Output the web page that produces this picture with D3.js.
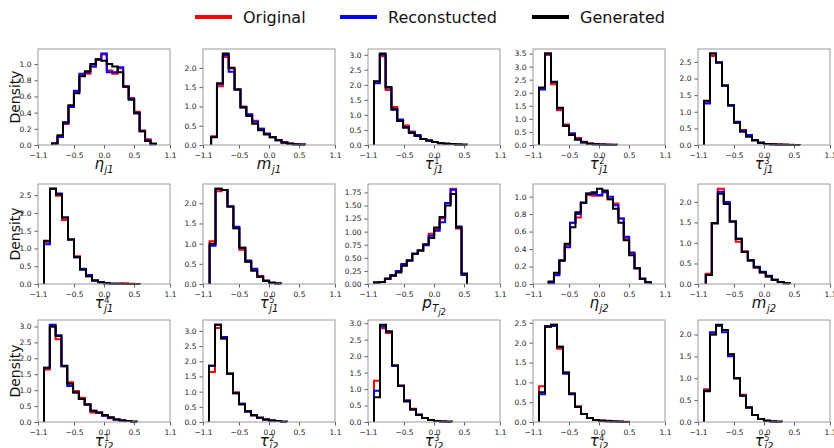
<!DOCTYPE html>
<html><head><meta charset="utf-8">
<script src="https://cdn.jsdelivr.net/npm/d3@7"></script>
<style>body{margin:0;background:#fff} text{font-family:"DejaVu Sans",sans-serif}</style>
</head><body><svg id="c" width="834" height="448"></svg>
<script>
// ---------- data ----------
const seriesNames = ["Original", "Reconstucted", "Generated"];
const seriesColors = ["#ff0000", "#0000ff", "#000000"];
const xTicks = [-1.1, -0.5, 0.0, 0.5, 1.1];

const etaJ1_range = [-0.866, 0.867];
const etaJ1_orig = [0.02,0.11,0.26,0.48,0.66,0.86,0.88,0.97,1.05,1.12,0.92,0.88,0.95,0.73,0.58,0.41,0.18,0.07,0.01];
const etaJ1_reco = [0.02,0.10,0.27,0.47,0.67,0.88,0.90,0.97,1.06,1.13,0.90,0.90,0.96,0.72,0.57,0.39,0.17,0.06,0.01];
const etaJ1_gen  = [0.02,0.12,0.28,0.49,0.64,0.85,0.91,1.00,1.06,1.04,1.00,0.97,0.90,0.72,0.56,0.40,0.17,0.05,0.02];

const mJ1_range = [-0.965, 0.6];
const mJ1_orig = [0.23,1.52,2.28,1.98,1.44,1.0,0.78,0.63,0.42,0.3,0.21,0.13,0.07,0.04,0.02,0.01];
const mJ1_reco = [0.21,1.58,2.33,1.9,1.44,0.98,0.8,0.6,0.42,0.29,0.2,0.12,0.07,0.03,0.02,0.01];
const mJ1_gen  = [0.2,1.6,2.37,2.0,1.44,0.97,0.75,0.55,0.38,0.27,0.2,0.12,0.06,0.03,0.015,0.005];

const tau1J1_range = [-1.0, 0.55];
const tau1J1_orig = [2.1,2.95,1.83,1.26,0.82,0.65,0.45,0.3,0.2,0.14,0.1,0.07,0.04,0.03,0.02,0.01];
const tau1J1_reco = [2.05,3.0,1.9,1.2,0.85,0.6,0.42,0.33,0.2,0.15,0.1,0.06,0.04,0.03,0.02,0.01];
const tau1J1_gen  = [2.12,3.04,1.93,1.17,0.8,0.57,0.4,0.3,0.2,0.15,0.1,0.06,0.04,0.03,0.02,0.01];

const tau2J1_range = [-1.0, 0.3];
const tau2J1_orig = [2.18,3.45,2.33,1.33,0.78,0.45,0.27,0.12,0.06,0.03,0.015,0.01,0.005];
const tau2J1_reco = [2.12,3.5,2.4,1.4,0.75,0.43,0.22,0.11,0.05,0.03,0.015,0.01,0.005];
const tau2J1_gen  = [2.2,3.5,2.42,1.43,0.73,0.38,0.2,0.1,0.05,0.03,0.015,0.008,0.004];

const tau3J1_range = [-1.0, 0.6];
const tau3J1_orig = [1.3,2.68,2.48,1.78,1.2,0.68,0.45,0.27,0.14,0.07,0.03,0.03,0.02,0.01,0.005,0.003];
const tau3J1_reco = [1.25,2.75,2.48,1.8,1.2,0.7,0.43,0.3,0.14,0.07,0.03,0.015,0.01,0.005,0.003,0.002];
const tau3J1_gen  = [1.33,2.75,2.48,1.78,1.18,0.67,0.4,0.25,0.14,0.07,0.03,0.015,0.01,0.005,0.003,0.002];

const tau4J1_range = [-1.0, 0.6];
const tau4J1_orig = [1.18,2.68,2.48,1.8,1.25,0.78,0.42,0.22,0.1,0.05,0.02,0.01,0.01,0.02,0.005,0.003];
const tau4J1_reco = [1.12,2.68,2.55,1.87,1.25,0.75,0.43,0.25,0.1,0.05,0.02,0.01,0.005,0.003,0.002,0.001];
const tau4J1_gen  = [1.22,2.68,2.52,1.87,1.25,0.75,0.4,0.22,0.1,0.05,0.02,0.01,0.005,0.003,0.002,0.001];

const tau5J1_range = [-0.99, 0.2];
const tau5J1_orig = [1.06,2.3,2.33,1.92,1.38,0.85,0.55,0.36,0.2,0.08,0.03,0.01];
const tau5J1_reco = [0.95,2.36,2.33,1.92,1.42,0.9,0.58,0.38,0.18,0.08,0.03,0.01];
const tau5J1_gen  = [1.0,2.36,2.33,1.92,1.38,0.9,0.55,0.33,0.18,0.08,0.03,0.01];

const pTJ2_range = [-1.0, 0.55];
const pTJ2_orig = [0.03,0.04,0.1,0.16,0.25,0.36,0.45,0.58,0.64,0.75,0.96,1.05,1.25,1.55,1.82,1.06,0.18];
const pTJ2_reco = [0.03,0.04,0.1,0.17,0.25,0.38,0.45,0.58,0.64,0.74,0.92,1.02,1.18,1.55,1.8,1.1,0.17];
const pTJ2_gen  = [0.03,0.04,0.1,0.16,0.22,0.35,0.45,0.58,0.64,0.76,0.88,1.08,1.28,1.5,1.72,1.08,0.2];

const etaJ2_range = [-0.84, 0.86];
const etaJ2_orig = [0.02,0.11,0.27,0.44,0.7,0.76,0.93,1.02,1.01,1.01,1.05,0.97,0.92,0.75,0.52,0.35,0.18,0.06,0.02];
const etaJ2_reco = [0.01,0.1,0.27,0.42,0.7,0.8,0.93,1.04,1.03,1.02,1.05,1.0,0.9,0.75,0.54,0.36,0.18,0.06,0.02];
const etaJ2_gen  = [0.03,0.13,0.27,0.46,0.65,0.82,0.93,1.03,1.05,1.09,1.07,0.97,0.86,0.7,0.5,0.33,0.18,0.06,0.02];

const mJ2_range = [-0.97, 0.43];
const mJ2_orig = [0.25,1.48,2.32,1.95,1.52,1.03,0.8,0.57,0.4,0.28,0.18,0.1,0.05,0.02];
const mJ2_reco = [0.22,1.48,2.25,2.0,1.52,1.1,0.78,0.58,0.42,0.3,0.2,0.11,0.05,0.02];
const mJ2_gen  = [0.22,1.48,2.2,1.95,1.52,1.1,0.78,0.57,0.4,0.28,0.18,0.1,0.05,0.02];

const tau1J2_range = [-1.0, 0.55];
const tau1J2_orig = [1.65,3.0,2.6,1.75,1.25,0.97,0.76,0.55,0.3,0.28,0.2,0.12,0.08,0.05,0.03,0.01];
const tau1J2_reco = [1.7,3.05,2.72,1.75,1.13,0.93,0.72,0.55,0.35,0.3,0.2,0.13,0.08,0.05,0.03,0.01];
const tau1J2_gen  = [1.7,3.0,2.7,1.77,1.2,0.93,0.72,0.55,0.35,0.3,0.22,0.15,0.08,0.05,0.03,0.01];

const tau2J2_range = [-1.0, 0.3];
const tau2J2_orig = [1.65,3.1,2.75,1.6,0.98,0.6,0.36,0.22,0.14,0.08,0.05,0.03,0.01];
const tau2J2_reco = [1.85,3.2,2.8,1.58,0.95,0.6,0.35,0.22,0.14,0.08,0.05,0.03,0.01];
const tau2J2_gen  = [1.85,3.2,2.75,1.6,0.95,0.58,0.35,0.22,0.14,0.08,0.05,0.03,0.01];

const tau3J2_range = [-1.0, 0.3];
const tau3J2_orig = [1.25,2.85,2.7,1.7,1.1,0.65,0.4,0.22,0.12,0.06,0.03,0.015,0.01];
const tau3J2_reco = [0.95,2.9,2.75,1.7,1.1,0.65,0.38,0.22,0.12,0.06,0.03,0.015,0.01];
const tau3J2_gen  = [0.75,2.95,2.75,1.72,1.1,0.62,0.38,0.22,0.12,0.06,0.03,0.015,0.01];

const tau4J2_range = [-1.0, 0.5];
const tau4J2_orig = [0.9,2.4,2.45,1.85,1.25,0.72,0.4,0.2,0.1,0.05,0.04,0.03,0.02,0.01,0.005];
const tau4J2_reco = [0.7,2.42,2.42,1.9,1.22,0.7,0.38,0.2,0.1,0.05,0.03,0.02,0.01,0.005,0.003];
const tau4J2_gen  = [0.75,2.4,2.45,1.9,1.25,0.72,0.38,0.2,0.1,0.05,0.03,0.02,0.01,0.005,0.003];

const tau5J2_range = [-1.0, 0.3];
const tau5J2_orig = [0.75,2.0,2.2,2.1,1.55,1.0,0.62,0.33,0.16,0.07,0.03,0.01,0.005];
const tau5J2_reco = [0.72,2.05,2.2,2.05,1.5,1.0,0.6,0.33,0.16,0.07,0.03,0.01,0.005];
const tau5J2_gen  = [0.7,2.0,2.22,2.1,1.55,1.0,0.6,0.33,0.16,0.07,0.03,0.01,0.005];

const panels = [
  {lab:{b:"η", sub:"j1"}, range:etaJ1_range, data:[etaJ1_orig, etaJ1_reco, etaJ1_gen], yStep:0.2, fmt:".1f"},
  {lab:{b:"m", sub:"j1"}, range:mJ1_range, data:[mJ1_orig, mJ1_reco, mJ1_gen], yStep:0.5, fmt:".1f"},
  {lab:{b:"τ", sup:"1", sub:"j1"}, range:tau1J1_range, data:[tau1J1_orig, tau1J1_reco, tau1J1_gen], yStep:0.5, fmt:".1f"},
  {lab:{b:"τ", sup:"2", sub:"j1"}, range:tau2J1_range, data:[tau2J1_orig, tau2J1_reco, tau2J1_gen], yStep:0.5, fmt:".1f"},
  {lab:{b:"τ", sup:"3", sub:"j1"}, range:tau3J1_range, data:[tau3J1_orig, tau3J1_reco, tau3J1_gen], yStep:0.5, fmt:".1f"},
  {lab:{b:"τ", sup:"4", sub:"j1"}, range:tau4J1_range, data:[tau4J1_orig, tau4J1_reco, tau4J1_gen], yStep:0.5, fmt:".1f"},
  {lab:{b:"τ", sup:"5", sub:"j1"}, range:tau5J1_range, data:[tau5J1_orig, tau5J1_reco, tau5J1_gen], yStep:0.5, fmt:".1f"},
  {lab:{b:"p", sub:"T", subsub:"j2"}, range:pTJ2_range, data:[pTJ2_orig, pTJ2_reco, pTJ2_gen], yStep:0.25, fmt:".2f"},
  {lab:{b:"η", sub:"j2"}, range:etaJ2_range, data:[etaJ2_orig, etaJ2_reco, etaJ2_gen], yStep:0.2, fmt:".1f"},
  {lab:{b:"m", sub:"j2"}, range:mJ2_range, data:[mJ2_orig, mJ2_reco, mJ2_gen], yStep:0.5, fmt:".1f"},
  {lab:{b:"τ", sup:"1", sub:"j2"}, range:tau1J2_range, data:[tau1J2_orig, tau1J2_reco, tau1J2_gen], yStep:0.5, fmt:".1f"},
  {lab:{b:"τ", sup:"2", sub:"j2"}, range:tau2J2_range, data:[tau2J2_orig, tau2J2_reco, tau2J2_gen], yStep:0.5, fmt:".1f"},
  {lab:{b:"τ", sup:"3", sub:"j2"}, range:tau3J2_range, data:[tau3J2_orig, tau3J2_reco, tau3J2_gen], yStep:0.5, fmt:".1f"},
  {lab:{b:"τ", sup:"4", sub:"j2"}, range:tau4J2_range, data:[tau4J2_orig, tau4J2_reco, tau4J2_gen], yStep:0.5, fmt:".1f"},
  {lab:{b:"τ", sup:"5", sub:"j2"}, range:tau5J2_range, data:[tau5J2_orig, tau5J2_reco, tau5J2_gen], yStep:0.5, fmt:".1f"}
];

// ---------- layout ----------
const colLeft = [38, 203, 368, 533, 698];
const plotW = 132;
const rowTop = [49, 184, 320];
const rowBottom = [145, 284, 422];

const svg = d3.select("#c");

// legend
const legX = [195, 340, 532];
seriesNames.forEach((n, k) => {
  svg.append("line").attr("x1", legX[k]).attr("x2", legX[k] + 37).attr("y1", 17).attr("y2", 17)
    .attr("stroke", seriesColors[k]).attr("stroke-width", 4);
  svg.append("text").attr("x", legX[k] + 48).attr("y", 23).attr("font-size", 16).attr("fill", "#111").text(n);
});

panels.forEach((p, i) => {
  const r = Math.floor(i / 5), c = i % 5;
  const h = rowBottom[r] - rowTop[r];
  const g = svg.append("g").attr("transform", `translate(${colLeft[c]},${rowTop[r]})`);
  const x = d3.scaleLinear().domain([-1.1, 1.1]).range([0, plotW]);
  const ymax = 1.05 * d3.max(p.data.flat());
  const y = d3.scaleLinear().domain([0, ymax]).range([h, 0]);

  const yt = d3.range(0, ymax + 1e-9, p.yStep);
  const xa = g.append("g").attr("transform", `translate(0,${h})`)
    .call(d3.axisBottom(x).tickValues(xTicks).tickFormat(d3.format(".1f")).tickSize(3.5).tickSizeOuter(0));
  const ya = g.append("g")
    .call(d3.axisLeft(y).tickValues(yt).tickFormat(d3.format(p.fmt)).tickSize(3.5).tickSizeOuter(0));
  [xa, ya].forEach(a => {
    a.select(".domain").remove();
    a.selectAll("line").attr("stroke", "#333").attr("stroke-width", 0.8);
    a.selectAll("text").attr("font-size", 7.5).attr("fill", "#222").attr("font-family", "DejaVu Sans");
  });
  xa.selectAll("text").attr("dy", "0.8em");

  p.data.forEach((arr, k) => {
    const n = arr.length, bw = (p.range[1] - p.range[0]) / n;
    const pts = [[p.range[0], 0]];
    arr.forEach((v, j) => { pts.push([p.range[0] + j * bw, v]); pts.push([p.range[0] + (j + 1) * bw, v]); });
    pts.push([p.range[1], 0]);
    g.append("path").attr("d", d3.line().x(d => x(d[0])).y(d => y(d[1]))(pts))
      .attr("fill", "none").attr("stroke", seriesColors[k]).attr("stroke-width", 2)
      .attr("stroke-linejoin", "miter");
  });

  g.append("rect").attr("x", 0).attr("y", 0).attr("width", plotW).attr("height", h)
    .attr("fill", "none").attr("stroke", "#999").attr("stroke-width", 1);

  // x label (mathtext-like)
  const lab = p.lab;
  const lg = g.append("g");
  const ly = h + 24;
  const t = lg.append("text").attr("x", 0).attr("y", ly).attr("font-size", 15).attr("fill", "#111")
    .attr("font-style", "italic").text(lab.b);
  const bwid = t.node().getComputedTextLength();
  let wsup = 0;
  if (lab.sup) {
    const su = lg.append("text").attr("x", bwid + 0.5).attr("y", ly - 5.5).attr("font-size", 8).attr("fill", "#111").text(lab.sup);
    wsup = su.node().getComputedTextLength();
  }
  const st = lg.append("text").attr("x", bwid + 0.5).attr("y", ly + 4).attr("font-size", 10).attr("fill", "#111")
    .attr("font-style", "italic").text(lab.sub);
  let wsub = st.node().getComputedTextLength();
  if (lab.subsub) {
    const ss = lg.append("text").attr("x", bwid + 0.5 + wsub).attr("y", ly + 7).attr("font-size", 8).attr("fill", "#111")
      .attr("font-style", "italic").text(lab.subsub);
    wsub += ss.node().getComputedTextLength();
  }
  const totalW = bwid + 0.5 + Math.max(wsup, wsub);
  lg.attr("transform", `translate(${plotW / 2 - totalW / 2},0)`);

  if (c === 0) {
    g.append("text").attr("transform", `translate(-18,${h / 2}) rotate(-90)`).attr("text-anchor", "middle")
      .attr("font-size", 14).attr("fill", "#111").text("Density");
  }
});
</script></body></html>
